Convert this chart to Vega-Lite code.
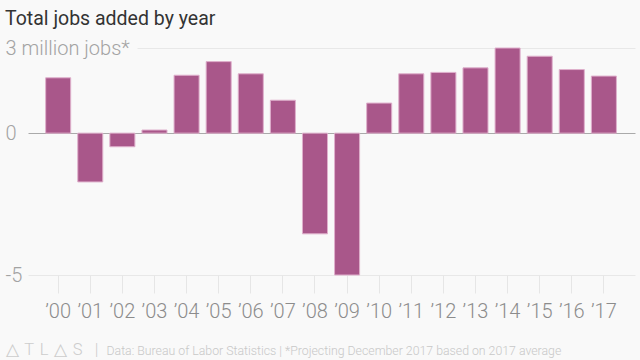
{
  "$schema": "https://vega.github.io/schema/vega-lite/v6.json",
  "autosize": {"type": "none"},
  "width": 613,
  "height": 227,
  "padding": {"left": 22, "top": 48, "right": 5, "bottom": 85},
  "background": "#f9f9f9",
  "title": {
    "text": "Total jobs added by year",
    "anchor": "start",
    "frame": "group",
    "dx": -17,
    "dy": 19,
    "offset": 13,
    "baseline": "alphabetic",
    "font": "Roboto",
    "fontSize": 19.5,
    "fontWeight": 400,
    "color": "#333333"
  },
  "data": {
    "values": [
      {"year": "2000", "jobs": 1.95},
      {"year": "2001", "jobs": -1.72},
      {"year": "2002", "jobs": -0.48},
      {"year": "2003", "jobs": 0.11},
      {"year": "2004", "jobs": 2.04},
      {"year": "2005", "jobs": 2.52},
      {"year": "2006", "jobs": 2.09},
      {"year": "2007", "jobs": 1.16},
      {"year": "2008", "jobs": -3.55},
      {"year": "2009", "jobs": -5.0},
      {"year": "2010", "jobs": 1.06},
      {"year": "2011", "jobs": 2.09},
      {"year": "2012", "jobs": 2.14},
      {"year": "2013", "jobs": 2.3},
      {"year": "2014", "jobs": 3.0},
      {"year": "2015", "jobs": 2.71},
      {"year": "2016", "jobs": 2.24},
      {"year": "2017", "jobs": 2.01}
    ]
  },
  "mark": {"type": "bar", "color": "#a9578a", "stroke": "#dfb0cc", "strokeWidth": 1},
  "encoding": {
    "x": {
      "field": "year",
      "type": "ordinal",
      "scale": {"paddingInner": 0.22, "paddingOuter": 0.658, "align": 0.56},
      "axis": {
        "title": "Data: Bureau of Labor Statistics | *Projecting December 2017 based on 2017 average",
        "titleX": 84,
        "titleY": 79,
        "titleAlign": "left",
        "titleBaseline": "alphabetic",
        "titleFont": "Roboto",
        "titleFontSize": 12.3,
        "titleFontWeight": 300,
        "titleColor": "#c8c8c8",
        "labelExpr": "'’' + substring(datum.value, 2, 4)",
        "labelAngle": 0,
        "labelFont": "Roboto",
        "labelFontSize": 20,
        "labelFontWeight": 300,
        "labelColor": "#8c8c8c",
        "labelPadding": 8,
        "domain": false,
        "ticks": true,
        "tickSize": 18,
        "tickColor": "#e6e6e6",
        "tickWidth": 1,
        "grid": false
      }
    },
    "y": {
      "field": "jobs",
      "type": "quantitative",
      "scale": {"domain": [-5, 3], "nice": false, "zero": false},
      "axis": {
        "title": "△\u00a0\u200aT\u00a0\u200aL\u00a0\u200a△\u00a0\u200aS\u00a0\u00a0\u00a0|",
        "titleAngle": 0,
        "titleX": -17,
        "titleY": 306,
        "titleAlign": "left",
        "titleBaseline": "alphabetic",
        "titleFont": "Roboto",
        "titleFontSize": 16.5,
        "titleFontWeight": 300,
        "titleColor": "#cccccc",
        "values": [-5, 0, 3],
        "labelExpr": "datum.value == 3 ? '3 million jobs*' : datum.value == -5 ? '-5' : '0'",
        "labelAlign": "left",
        "labelBaseline": "middle",
        "labelPadding": 17,
        "labelFont": "Roboto",
        "labelFontSize": 20,
        "labelFontWeight": 300,
        "labelColor": "#a3a3a3",
        "ticks": false,
        "domain": false,
        "grid": true,
        "gridColor": {"condition": {"test": "datum.value == 0", "value": "#aaaaaa"}, "value": "#e8e8e8"},
        "gridDash": {"condition": {"test": "datum.value == 3", "value": [0, 115, 1000]}, "value": [0, 6, 1000]},
        "gridWidth": 1
      }
    }
  },
  "config": {"view": {"stroke": null}}
}
